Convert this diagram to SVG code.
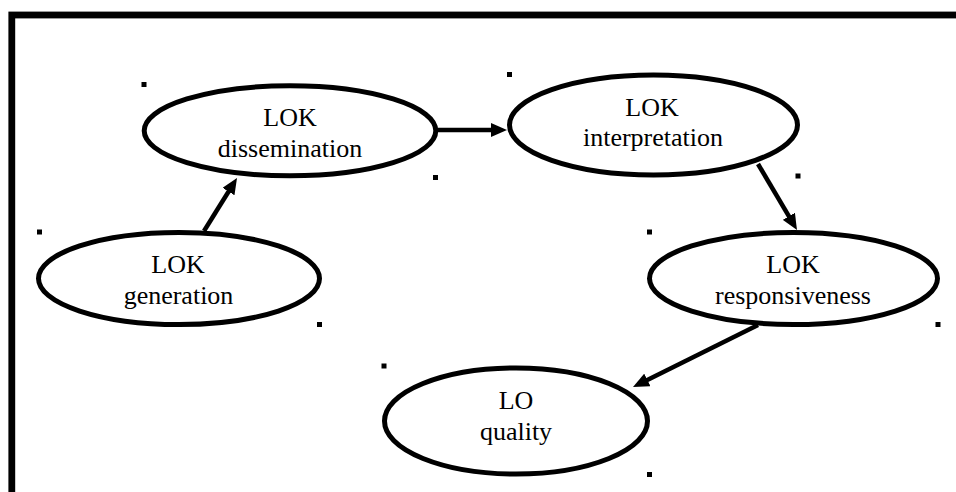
<svg xmlns="http://www.w3.org/2000/svg" width="956" height="492" viewBox="0 0 956 492">
<style>
.node ellipse{fill:#fff;stroke:#000;stroke-width:5}
.node text{font-family:"Liberation Serif","Times New Roman",serif;font-size:26px;fill:#000;text-anchor:middle}
.conn line{stroke:#000;stroke-width:4.5}
.dot{fill:#000}
</style>
<defs>
<marker id="ah" markerUnits="userSpaceOnUse" markerWidth="16" markerHeight="14" refX="4" refY="7" orient="auto">
<path d="M0,0 L16,7 L0,14 z" fill="#000"/>
</marker>
</defs>
<rect x="0" y="0" width="956" height="492" fill="#fff"/>
<rect x="11.8" y="15" width="960" height="500" fill="none" stroke="#000" stroke-width="6.8"/>
<g id="dots">
<rect class="dot" x="141.5" y="82" width="5" height="5"/>
<rect class="dot" x="507" y="72" width="5" height="5"/>
<rect class="dot" x="433" y="175" width="5" height="5"/>
<rect class="dot" x="795.5" y="173.5" width="5" height="5"/>
<rect class="dot" x="37" y="229.5" width="5" height="5"/>
<rect class="dot" x="647" y="229.5" width="5" height="5"/>
<rect class="dot" x="317" y="322" width="5" height="5"/>
<rect class="dot" x="935.5" y="322" width="5" height="5"/>
<rect class="dot" x="381.5" y="363.5" width="5" height="5"/>
<rect class="dot" x="647" y="472" width="5" height="5"/>
</g>
<g id="dissemination" class="node">
<ellipse cx="290" cy="130.8" rx="145.8" ry="45"/>
<text x="290" y="126">LOK</text>
<text x="290" y="157">dissemination</text>
</g>
<g id="interpretation" class="node">
<ellipse cx="653.5" cy="125" rx="144" ry="50"/>
<text x="652" y="116">LOK</text>
<text x="653" y="146">interpretation</text>
</g>
<g id="generation" class="node">
<ellipse cx="179" cy="278.5" rx="140.5" ry="46"/>
<text x="178" y="273">LOK</text>
<text x="178.5" y="304">generation</text>
</g>
<g id="responsiveness" class="node">
<ellipse cx="793.5" cy="278.5" rx="144" ry="46"/>
<text x="793" y="273">LOK</text>
<text x="793" y="303.5">responsiveness</text>
</g>
<g id="quality" class="node">
<ellipse cx="516" cy="421" rx="131.5" ry="53"/>
<text x="516" y="409">LO</text>
<text x="516" y="440">quality</text>
</g>
<g id="connectors" class="conn">
<line x1="204" y1="231" x2="230.65" y2="188.2" marker-end="url(#ah)"/>
<line x1="436" y1="130" x2="495" y2="130" marker-end="url(#ah)"/>
<line x1="758" y1="164" x2="790.9" y2="219.7" marker-end="url(#ah)"/>
<line x1="758" y1="325" x2="643.75" y2="381.7" marker-end="url(#ah)"/>
</g>
</svg>
